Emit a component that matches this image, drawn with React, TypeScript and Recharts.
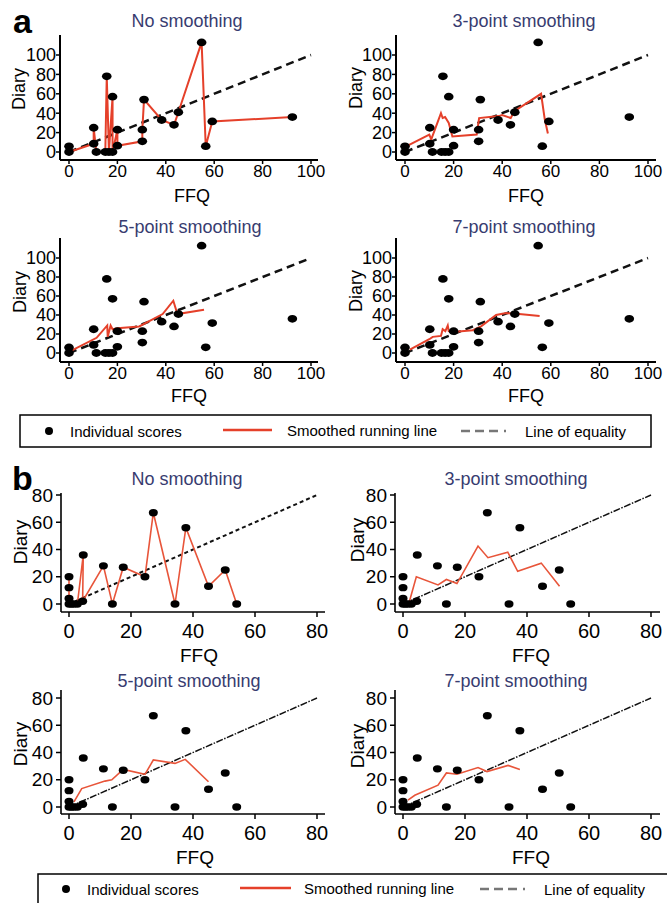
import React from 'react';
import { ScatterChart, Scatter, XAxis, YAxis, ReferenceLine } from 'recharts';

// Panel a: individual scores, listed in the order the raw line joins them
const aFFQ = [0, 0, 10.2, 10.2, 11.3, 15, 15.6, 16.5, 18, 18, 20, 20, 30.3, 30.3, 31, 38.3, 43.4, 45.2, 54.8, 56.5, 59.2, 92.3];
const aDiary = [5.8, 0, 8.5, 25, 0, 0, 78, 0, 57, 0, 23, 6.5, 11, 23, 54, 33, 28, 41, 113, 6, 31.5, 36];

const a3FFQ = [0.7, 10, 10.8, 14.8, 15.5, 16.5, 18, 19.5, 29.5, 30.5, 38.5, 40, 43.5, 45, 56, 57.5, 58.8];
const a3Diary = [6, 18, 13, 40, 35, 36, 30, 16, 18, 35, 37, 38, 35, 42, 60, 34, 19];

const a5FFQ = [0.4, 11.4, 15.8, 16, 17.2, 18, 20, 29, 38.7, 43.1, 44.8, 55.8];
const a5Diary = [1.7, 16, 29, 17, 29, 25, 26, 28, 41, 55, 41, 45.5];

const a7FFQ = [2, 10, 11.4, 14.8, 15.5, 16.6, 17.6, 18, 19.6, 27.9, 31.3, 37.5, 41.6, 47, 55.4];
const a7Diary = [3.5, 14.5, 17, 18, 25, 23, 29, 23, 22, 24, 28, 40, 42, 41, 39];

// Panel b
const bFFQ = [0, 0, 0, 0, 0.8, 1.6, 2.7, 4.6, 4.4, 11.1, 14, 17.5, 24.5, 27.2, 34.2, 37.7, 45, 50.4, 54.1];
const bDiary = [20, 12, 4, 0, 0, 0, 0, 36, 2, 28, 0, 27, 20, 67, 0, 56, 13, 25, 0];

const b3FFQ = [1.9, 4.3, 11.3, 14, 17.4, 24.2, 27.4, 33.8, 37, 44.6, 50.5];
const b3Diary = [0.5, 20, 14, 18, 15, 42.5, 34, 38, 24, 30, 13];

const b5FFQ = [1.6, 4.1, 11.6, 13.8, 17.5, 24.5, 27.2, 34.2, 37.5, 45];
const b5Diary = [3.7, 13.5, 19, 20, 27.6, 24, 34.5, 32, 35, 18.5];

const b7FFQ = [1.6, 3.8, 11.3, 14, 17.4, 24.2, 27.1, 33.9, 37.7];
const b7Diary = [5, 8.6, 16, 25, 24, 29, 26, 30.5, 27.6];

const aTicks = [0, 20, 40, 60, 80, 100];
const bTicks = [0, 20, 40, 60, 80];
const aEqual = [0, 100];
const bEqual = [0, 80];

const titles = ['No smoothing', '3-point smoothing', '5-point smoothing', '7-point smoothing'];

const zip = (xs: number[], ys: number[]) => xs.map((x, i) => ({ x, y: ys[i] }));

const FONT = '"Liberation Sans", Arial, Helvetica, sans-serif';
const TITLE_COLOR = '#383c70';

type Frame = { left: number; right: number; top: number; bottom: number; x0: number; x1: number; y0: number; y1: number };

type Style = {
  xFont: number;
  yFont: number;
  tickSize: number;
  xMargin: number;
  yMargin: number;
  axisWidth: number;
  rx: number;
  ry: number;
  red: string;
  redWidth: number;
};

const aStyle: Style = { xFont: 17, yFont: 18, tickSize: 4, xMargin: 1, yMargin: 0, axisWidth: 2, rx: 4.8, ry: 3.9, red: '#e5402a', redWidth: 2 };
const bStyle: Style = { xFont: 20, yFont: 19, tickSize: 5, xMargin: 7, yMargin: 3, axisWidth: 1.6, rx: 4.5, ry: 3.7, red: '#e8553a', redWidth: 1.6 };

const Panel = ({ frame, ticks, points, smooth, equal, eqDash, eqWidth, st }: any) => {
  const f: Frame = frame;
  const t0 = ticks[0];
  const t1 = ticks[ticks.length - 1];
  const sx = (t1 - t0) / (f.x1 - f.x0);
  const sy = (t1 - t0) / (f.y0 - f.y1);
  const xDomain = [t0 + (f.left - f.x0) * sx, t0 + (f.right - f.x0) * sx];
  const yDomain = [t0 + (f.y0 - f.bottom) * sy, t0 + (f.y0 - f.top) * sy];
  const width = f.right - f.left + 70;
  const height = f.bottom - f.top + 40;

  const dot = (p: any) => <ellipse cx={p.cx} cy={p.cy} rx={st.rx} ry={st.ry} fill="#000" />;

  return (
    <div style={{ position: 'absolute', left: f.left - 60, top: f.top - 10 }}>
      <ScatterChart width={width} height={height} margin={{ top: 10, right: 10, bottom: 0, left: 0 }}>
        <XAxis
          type="number"
          dataKey="x"
          domain={xDomain}
          allowDataOverflow
          ticks={ticks}
          interval={0}
          height={30}
          tickSize={st.tickSize}
          tickMargin={st.xMargin}
          tick={{ fontSize: st.xFont, fill: '#000', fontFamily: FONT }}
          axisLine={{ stroke: '#000', strokeWidth: st.axisWidth }}
          tickLine={{ stroke: '#000', strokeWidth: 1.5 }}
        />
        <YAxis
          type="number"
          dataKey="y"
          domain={yDomain}
          allowDataOverflow
          ticks={ticks}
          interval={0}
          width={60}
          tickSize={st.tickSize}
          tickMargin={st.yMargin}
          tick={{ fontSize: st.yFont, fill: '#000', fontFamily: FONT }}
          axisLine={{ stroke: '#000', strokeWidth: st.axisWidth }}
          tickLine={{ stroke: '#000', strokeWidth: 1.5 }}
        />
        <ReferenceLine
          segment={[{ x: equal[0], y: equal[0] }, { x: equal[1], y: equal[1] }]}
          stroke="#111"
          strokeWidth={eqWidth}
          strokeDasharray={eqDash}
        />
        <Scatter
          data={smooth}
          line={{ stroke: st.red, strokeWidth: st.redWidth }}
          lineType="joint"
          shape={() => <g />}
          isAnimationActive={false}
        />
        <Scatter data={points} shape={dot} isAnimationActive={false} />
      </ScatterChart>
    </div>
  );
};

const aPoints = zip(aFFQ, aDiary);
const bPoints = zip(bFFQ, bDiary);

const aPanels = [
  { frame: { left: 60, right: 318, top: 35, bottom: 160, x0: 69, x1: 311, y0: 152, y1: 55 }, smooth: aPoints },
  { frame: { left: 396, right: 656, top: 35, bottom: 160, x0: 405, x1: 648, y0: 152, y1: 55 }, smooth: zip(a3FFQ, a3Diary) },
  { frame: { left: 60, right: 318, top: 238, bottom: 362, x0: 69, x1: 311, y0: 353, y1: 258 }, smooth: zip(a5FFQ, a5Diary) },
  { frame: { left: 396, right: 656, top: 238, bottom: 362, x0: 405, x1: 648, y0: 353, y1: 258 }, smooth: zip(a7FFQ, a7Diary) },
];

const bPanels = [
  { frame: { left: 61, right: 325, top: 493, bottom: 612, x0: 69, x1: 317, y0: 604, y1: 495 }, smooth: bPoints, dash: '4 3', w: 2 },
  { frame: { left: 395, right: 660, top: 493, bottom: 612, x0: 403, x1: 651, y0: 604, y1: 495 }, smooth: zip(b3FFQ, b3Diary), dash: '7 1.5 1.5 1.5', w: 1.5 },
  { frame: { left: 61, right: 325, top: 690, bottom: 814, x0: 69, x1: 317, y0: 807, y1: 698 }, smooth: zip(b5FFQ, b5Diary), dash: '7 1.5 1.5 1.5', w: 1.5 },
  { frame: { left: 395, right: 660, top: 690, bottom: 814, x0: 403, x1: 651, y0: 807, y1: 698 }, smooth: zip(b7FFQ, b7Diary), dash: '7 1.5 1.5 1.5', w: 1.5 },
];

// text placement: [titleX, titleBaseline, diaryX, diaryY, ffqX, ffqY]
const aText = [
  [187, 27, 19, 89, 192, 196],
  [524, 27, 356, 88, 526, 196],
  [190, 233, 20, 292, 189, 396],
  [524, 233, 356, 291, 526, 396],
];
const bText = [
  [187, 485, 20, 542, 199, 655],
  [516, 485, 357, 540, 531, 655],
  [189, 687, 20, 744, 195, 857],
  [516, 687, 357, 746, 531, 857],
];

const Labels = ({ rows, size }: { rows: number[][]; size: number }) => (
  <>
    {rows.map((r, i) => (
      <g key={i}>
        <text x={r[0]} y={r[1]} textAnchor="middle" fontSize={18} fill={TITLE_COLOR}>{titles[i]}</text>
        <text x={r[2]} y={r[3]} textAnchor="middle" dominantBaseline="central" fontSize={size} transform={`rotate(-90 ${r[2]} ${r[3]})`}>Diary</text>
        <text x={r[4]} y={r[5]} textAnchor="middle" dominantBaseline="central" fontSize={size}>FFQ</text>
      </g>
    ))}
  </>
);

const Legend = ({ box, cy, dotX, t1, red, t2, dash, t3 }: any) => (
  <g fontSize={15}>
    <rect x={box[0]} y={box[1]} width={box[2]} height={box[3]} fill="none" stroke="#000" strokeWidth={1.5} />
    <circle cx={dotX} cy={cy} r={4} fill="#000" />
    <text x={t1} y={cy} dominantBaseline="central">Individual scores</text>
    <line x1={red[0]} x2={red[1]} y1={cy - 1} y2={cy - 1} stroke="#e5402a" strokeWidth={2.5} />
    <text x={t2} y={cy - 1} dominantBaseline="central">Smoothed running line</text>
    <line x1={dash[0]} x2={dash[1]} y1={cy} y2={cy} stroke="#777" strokeWidth={2.5} strokeDasharray="9 5 9 5 9 6 2 40" />
    <text x={t3} y={cy} dominantBaseline="central">Line of equality</text>
  </g>
);

const App = () => (
  <div style={{ position: 'absolute', left: 0, top: 0, width: 667, height: 903, background: '#fff', overflow: 'hidden', fontFamily: FONT }}>
    {aPanels.map((p, i) => (
      <Panel key={'a' + i} frame={p.frame} ticks={aTicks} points={aPoints} smooth={p.smooth} equal={aEqual} eqDash="8 5" eqWidth={2.5} st={aStyle} />
    ))}
    {bPanels.map((p, i) => (
      <Panel key={'b' + i} frame={p.frame} ticks={bTicks} points={bPoints} smooth={p.smooth} equal={bEqual} eqDash={p.dash} eqWidth={p.w} st={bStyle} />
    ))}
    <svg width={667} height={903} style={{ position: 'absolute', left: 0, top: 0, pointerEvents: 'none' }} fontFamily={FONT}>
      <text x={13} y={33} fontSize={34} fontWeight="bold">a</text>
      <text x={12} y={490} fontSize={34} fontWeight="bold">b</text>
      <Labels rows={aText} size={18} />
      <Labels rows={bText} size={19} />
      <Legend box={[20, 415, 631, 32]} cy={431} dotX={49} t1={70} red={[223, 272]} t2={287} dash={[461, 510]} t3={525} />
      <Legend box={[38, 874, 640, 40]} cy={889} dotX={66} t1={87} red={[240, 291]} t2={304} dash={[480, 527]} t3={544} />
    </svg>
  </div>
);

export default App;
